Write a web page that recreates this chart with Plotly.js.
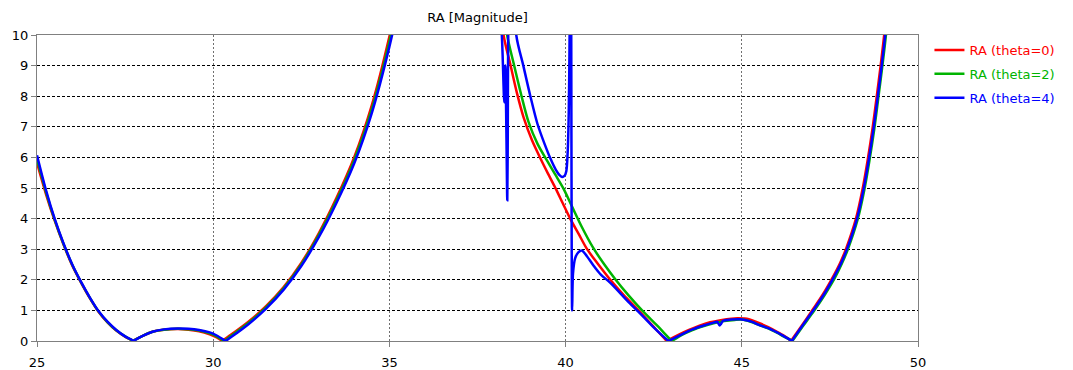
<!DOCTYPE html>
<html>
<head>
<meta charset="utf-8">
<script src="https://cdn.plot.ly/plotly-3.0.1.min.js"></script>
<style>html,body{margin:0;padding:0;background:#fff;}#chart{width:1073px;height:370px;}</style>
</head>
<body>
<div id="chart"></div>
<script>
// Series names
const seriesNames = ["RA (theta=0)", "RA (theta=2)", "RA (theta=4)"];
const xTickVals = [25, 30, 35, 40, 45, 50];
const yTickVals = [0, 1, 2, 3, 4, 5, 6, 7, 8, 9, 10];

// theta = 0 (red)
const xRed = [25, 25.25, 25.5, 25.75, 26, 26.25, 26.5, 26.75, 27, 27.25, 27.5, 27.68, 27.72,
  27.76, 28.0, 28.3, 28.6, 29.0, 29.3, 29.6, 29.9, 30.1, 30.22, 30.26,
  30.3, 30.5, 31, 31.5, 32, 32.5, 33, 33.5, 34, 34.5, 35, 35.3, 35.6,
  38.0, 38.24, 38.43, 38.62, 38.81, 39.05, 39.28, 39.5, 39.72, 39.92, 40.13, 40.37, 40.61, 40.93, 41.27, 41.65, 42.07, 42.47, 42.84, 42.88,
  42.92, 43.2, 43.5, 43.8, 44.1, 44.4, 44.7, 44.9, 45.2, 45.5, 45.75, 46.0, 46.2, 46.35, 46.39,
  46.43, 46.7, 47.01, 47.3, 47.58, 47.79, 47.96, 48.24, 48.43, 48.57, 48.71, 48.83, 48.94, 49.04, 49.2];
const yRed = [5.82, 4.82, 3.94, 3.16, 2.47, 1.91, 1.40, 0.95, 0.61, 0.34, 0.14, 0.03, 0,
  0.03, 0.17, 0.31, 0.37, 0.39, 0.37, 0.32, 0.22, 0.12, 0.03, 0,
  0.04, 0.2, 0.63, 1.14, 1.76, 2.55, 3.53, 4.68, 6.0, 7.7, 9.95, 11.6, 13,
  13, 10, 9.05, 8.1, 7.3, 6.55, 5.98, 5.47, 4.98, 4.5, 4.0, 3.5, 3.0, 2.5, 2.0, 1.5, 1.0, 0.5, 0.04, 0,
  0.03, 0.2, 0.36, 0.5, 0.61, 0.68, 0.73, 0.74, 0.71, 0.58, 0.45, 0.3, 0.17, 0.05, 0,
  0.06, 0.5, 1.02, 1.52, 2.08, 2.55, 3.02, 4.0, 4.98, 5.9, 6.95, 8.0, 9.0, 10, 12];

// theta = 2 (green)
const xGreen = [25, 25.25, 25.5, 25.75, 26, 26.25, 26.5, 26.75, 27, 27.25, 27.5, 27.69, 27.73,
  27.77, 28.0, 28.3, 28.6, 29.0, 29.3, 29.6, 29.9, 30.1, 30.27, 30.31,
  30.35, 30.5, 31, 31.5, 32, 32.5, 33, 33.5, 34, 34.5, 35, 35.3, 35.6,
  38.0, 38.34, 38.53, 38.75, 38.95, 39.2, 39.47, 39.7, 39.94, 40.2, 40.45, 40.78, 41.1, 41.41, 41.78, 42.17, 42.6, 42.98, 43.02,
  43.06, 43.3, 43.6, 43.9, 44.2, 44.5, 44.8, 45.0, 45.25, 45.5, 45.75, 46.0, 46.2, 46.39, 46.43,
  46.47, 46.73, 47.06, 47.35, 47.64, 47.84, 48.01, 48.29, 48.48, 48.62, 48.76, 48.88, 48.99, 49.09, 49.25];
const yGreen = [5.95, 4.89, 3.97, 3.18, 2.49, 1.92, 1.41, 0.96, 0.62, 0.35, 0.15, 0.03, 0,
  0.03, 0.17, 0.31, 0.37, 0.40, 0.38, 0.34, 0.25, 0.15, 0.03, 0,
  0.03, 0.16, 0.59, 1.1, 1.72, 2.5, 3.47, 4.6, 5.9, 7.57, 9.78, 11.4, 13,
  13, 10, 9.05, 8.0, 7.15, 6.45, 5.9, 5.45, 4.98, 4.35, 3.75, 3.05, 2.5, 2.02, 1.5, 1.0, 0.5, 0.04, 0,
  0.03, 0.2, 0.36, 0.48, 0.58, 0.65, 0.69, 0.70, 0.63, 0.52, 0.41, 0.27, 0.14, 0.03, 0,
  0.06, 0.48, 1.0, 1.5, 2.06, 2.53, 3.0, 3.98, 4.96, 5.88, 6.93, 8.0, 9.0, 10, 12];

// theta = 4 (blue)
const xBlue = [25, 25.25, 25.5, 25.75, 26, 26.25, 26.5, 26.75, 27, 27.25, 27.5, 27.7, 27.74,
  27.78, 28.0, 28.3, 28.6, 29.0, 29.3, 29.6, 29.9, 30.1, 30.31, 30.35,
  30.39, 30.5, 31, 31.5, 32, 32.5, 33, 33.5, 34, 34.5, 35, 35.3, 35.6,
  38.0, 38.19, 38.26, 38.29, 38.32, 38.345, 38.36, 38.375, 38.45, 38.6, 38.8, 39.0, 39.2, 39.4, 39.57, 39.72, 39.82, 39.9, 39.97, 40.02, 40.06, 40.09, 40.11, 40.13, 40.15,
  40.165, 40.185, 40.21, 40.27, 40.36, 40.46, 40.6, 40.79, 41.0, 41.27, 41.74, 42.07, 42.47, 42.89, 42.93,
  42.97, 43.3, 43.6, 43.9, 44.2, 44.3, 44.37, 44.41, 44.47, 44.7, 44.96, 45.25, 45.52, 45.75, 46.0, 46.2, 46.38, 46.42,
  46.46, 46.72, 47.04, 47.33, 47.61, 47.82, 47.99, 48.27, 48.46, 48.6, 48.74, 48.86, 48.97, 49.07, 49.22];
const yBlue = [6.07, 4.95, 4.0, 3.2, 2.5, 1.93, 1.42, 0.97, 0.63, 0.36, 0.15, 0.03, 0,
  0.03, 0.17, 0.31, 0.38, 0.41, 0.40, 0.36, 0.28, 0.18, 0.03, 0,
  0.03, 0.12, 0.55, 1.06, 1.68, 2.45, 3.4, 4.52, 5.8, 7.45, 9.62, 11.2, 13,
  13, 10, 7.8, 9.0, 6.8, 4.6, 7, 10.5, 14, 10, 9.0, 8.0, 7.1, 6.45, 5.96, 5.6, 5.43, 5.36, 5.4, 5.55, 6.2, 7.5, 9.5, 12, 13,
  7, 1.0, 2.2, 2.7, 2.9, 2.96, 2.78, 2.47, 2.17, 1.9, 1.33, 0.95, 0.48, 0.03, 0,
  0.03, 0.22, 0.38, 0.5, 0.6, 0.63, 0.51, 0.56, 0.66, 0.7, 0.71, 0.64, 0.51, 0.42, 0.28, 0.15, 0.03, 0,
  0.07, 0.5, 1.02, 1.52, 2.08, 2.55, 3.02, 4.0, 4.98, 5.9, 6.95, 8.0, 9.0, 10, 12];

const colors = ["#ff0000", "#00b400", "#0000ff"];
const xs = [xRed, xGreen, xBlue];
const ys = [yRed, yGreen, yBlue];

const traces = seriesNames.map((n, i) => ({
  x: xs[i], y: ys[i], type: "scatter", mode: "lines",
  name: '<span style="color:' + colors[i] + '">' + n + '</span>',
  legendgroup: "g" + i,
  line: {color: colors[i], width: 2.5, shape: "spline", smoothing: 0.8},
  hoverinfo: "x+y"
}));

const layout = {
  width: 1073, height: 370,
  margin: {l: 37, r: 155, t: 35, b: 29},
  paper_bgcolor: "#fff", plot_bgcolor: "#fff",
  font: {family: "DejaVu Sans, Verdana, sans-serif", size: 13, color: "#000"},
  title: {text: "RA [Magnitude]", x: 0.5, xref: "paper", xanchor: "center", y: 0.954, yref: "container", yanchor: "middle", font: {size: 13, color: "#000"}},
  showlegend: true,
  legend: {x: 1.013, xanchor: "left", y: 1.0, yanchor: "top", tracegroupgap: 4,
    bgcolor: "rgba(0,0,0,0)", font: {size: 13}},
  xaxis: {range: [25, 50], tickvals: xTickVals, ticks: "outside", ticklen: 5, tickcolor: "#808080",
    ticklabelstandoff: 4, automargin: false,
    showline: true, linecolor: "#808080", linewidth: 1, mirror: true,
    showgrid: true, gridcolor: "#707070", griddash: "2px,2px", gridwidth: 1, zeroline: false},
  yaxis: {range: [0, 10], tickvals: yTickVals, ticks: "outside", ticklen: 5, tickcolor: "#808080",
    automargin: false,
    showline: true, linecolor: "#808080", linewidth: 1, mirror: true,
    showgrid: true, gridcolor: "#000", griddash: "3px,2px", gridwidth: 1, zeroline: false}
};

Plotly.newPlot("chart", traces, layout, {displayModeBar: false, staticPlot: true});
</script>
</body>
</html>
